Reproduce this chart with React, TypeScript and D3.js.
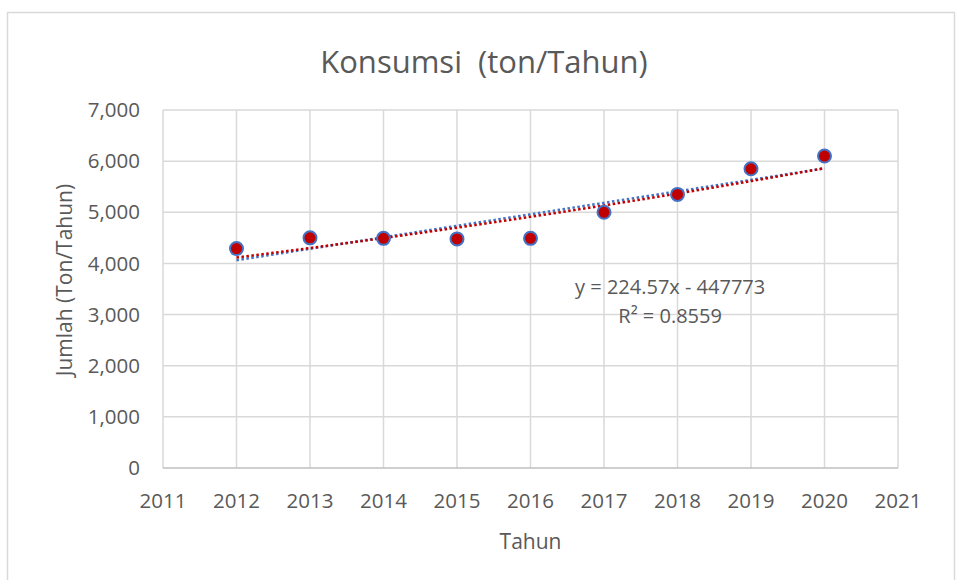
import { useEffect, useRef } from 'react';
import * as d3 from 'd3';

const years = [2012, 2013, 2014, 2015, 2016, 2017, 2018, 2019, 2020];
const konsumsi = [4290, 4500, 4490, 4480, 4490, 5000, 5350, 5850, 6100];
const xTicks = [2011, 2012, 2013, 2014, 2015, 2016, 2017, 2018, 2019, 2020, 2021];
const yTicks = [0, 1000, 2000, 3000, 4000, 5000, 6000, 7000];
// trendline shown in the chart label
const trendSlope = 224.57;
const trendIntercept = -447773;
const trendR2 = 0.8559;

export default function App() {
  const svgRef = useRef<SVGSVGElement>(null);

  useEffect(() => {
    if (!svgRef.current) return;
    const W = 957;
    const H = 580;
    const margin = { top: 110, right: 59, bottom: 112, left: 163 };
    const width = W - margin.left - margin.right;
    const height = H - margin.top - margin.bottom;
    const font = '"Open Sans", sans-serif';
    const textColor = '#595959';

    d3.select(svgRef.current).selectAll('*').remove();
    const root = d3.select(svgRef.current).attr('width', W).attr('height', H);

    // chart frame
    root.append('rect')
      .attr('x', 7.5).attr('y', 12.5)
      .attr('width', 947).attr('height', 580)
      .attr('fill', '#fff').attr('stroke', '#d9d9d9').attr('stroke-width', 1.5);

    root.append('text')
      .attr('x', 484).attr('y', 73)
      .attr('text-anchor', 'middle')
      .attr('font-family', font).attr('font-size', 31)
      .attr('fill', textColor)
      .style('white-space', 'pre')
      .text('Konsumsi  (ton/Tahun)');

    const svg = root.append('g').attr('transform', `translate(${margin.left},${margin.top})`);

    const x = d3.scaleLinear().domain([2011, 2021]).range([0, width]);
    const y = d3.scaleLinear().domain([0, 7000]).range([height, 0]);

    // gridlines
    svg.append('g').selectAll('line.h').data(yTicks.filter(t => t > 0)).join('line')
      .attr('x1', 0).attr('x2', width)
      .attr('y1', d => y(d)).attr('y2', d => y(d))
      .attr('stroke', '#d9d9d9').attr('stroke-width', 1.5);
    svg.append('g').selectAll('line.v').data(xTicks).join('line')
      .attr('x1', d => x(d)).attr('x2', d => x(d))
      .attr('y1', 0).attr('y2', height)
      .attr('stroke', '#d9d9d9').attr('stroke-width', 1.5);
    svg.append('line')
      .attr('x1', 0).attr('x2', width).attr('y1', height).attr('y2', height)
      .attr('stroke', '#bfbfbf').attr('stroke-width', 1.5);

    // tick labels
    const fmt = d3.format(',');
    svg.append('g').selectAll('text').data(yTicks).join('text')
      .attr('x', -23).attr('y', d => y(d)).attr('dy', '0.35em')
      .attr('text-anchor', 'end')
      .attr('font-family', font).attr('font-size', 20.5).attr('fill', textColor)
      .text(d => fmt(d));
    svg.append('g').selectAll('text').data(xTicks).join('text')
      .attr('x', d => x(d)).attr('y', height + 40)
      .attr('text-anchor', 'middle')
      .attr('font-family', font).attr('font-size', 20.5).attr('fill', textColor)
      .text(d => d);

    // axis titles
    svg.append('text')
      .attr('x', width / 2).attr('y', height + 81)
      .attr('text-anchor', 'middle')
      .attr('font-family', font).attr('font-size', 21).attr('fill', textColor)
      .text('Tahun');
    svg.append('text')
      .attr('transform', 'rotate(-90)')
      .attr('x', -height / 2 + 9).attr('y', -91)
      .attr('text-anchor', 'middle')
      .attr('font-family', font).attr('font-size', 21).attr('fill', textColor)
      .text('Jumlah (Ton/Tahun)');

    const x0 = years[0];
    const x1 = years[years.length - 1];

    // linear trendline (blue dotted)
    svg.append('line')
      .attr('x1', x(x0)).attr('x2', x(x1))
      .attr('y1', y(trendSlope * x0 + trendIntercept))
      .attr('y2', y(trendSlope * x1 + trendIntercept))
      .attr('stroke', '#4472c4').attr('stroke-width', 2.5)
      .attr('stroke-dasharray', '2.5,2.5');

    // exponential trendline fitted from data (red dotted)
    const mx = d3.mean(years)!;
    const lny = konsumsi.map(v => Math.log(v));
    const my = d3.mean(lny)!;
    const b = d3.sum(years, (t, i) => (t - mx) * (lny[i] - my)) / d3.sum(years, t => (t - mx) ** 2);
    const expPts = d3.range(x0, x1 + 0.001, 0.25).map(t => [t, Math.exp(my + b * (t - mx))] as [number, number]);
    svg.append('path')
      .datum(expPts)
      .attr('fill', 'none')
      .attr('stroke', '#c00000').attr('stroke-width', 2.5)
      .attr('stroke-dasharray', '2.5,2.5')
      .attr('d', d3.line<[number, number]>().x(d => x(d[0])).y(d => y(d[1])));

    // points
    svg.append('g').selectAll('circle').data(years).join('circle')
      .attr('cx', d => x(d)).attr('cy', (d, i) => y(konsumsi[i]))
      .attr('r', 6.5)
      .attr('fill', '#c00000')
      .attr('stroke', '#4472c4').attr('stroke-width', 2);

    // equation label
    svg.append('text')
      .attr('x', x(2017.9)).attr('y', y(3410))
      .attr('text-anchor', 'middle')
      .attr('font-family', font).attr('font-size', 20).attr('fill', textColor)
      .text(`y = ${trendSlope}x - ${Math.abs(trendIntercept)}`);
    svg.append('text')
      .attr('x', x(2017.9)).attr('y', y(2830))
      .attr('text-anchor', 'middle')
      .attr('font-family', font).attr('font-size', 20).attr('fill', textColor)
      .text(`R² = ${trendR2}`);
  }, []);

  return (
    <div style={{ position: 'absolute', left: 0, top: 0, background: '#fff' }}>
      <svg ref={svgRef} style={{ display: 'block' }}></svg>
    </div>
  );
}
